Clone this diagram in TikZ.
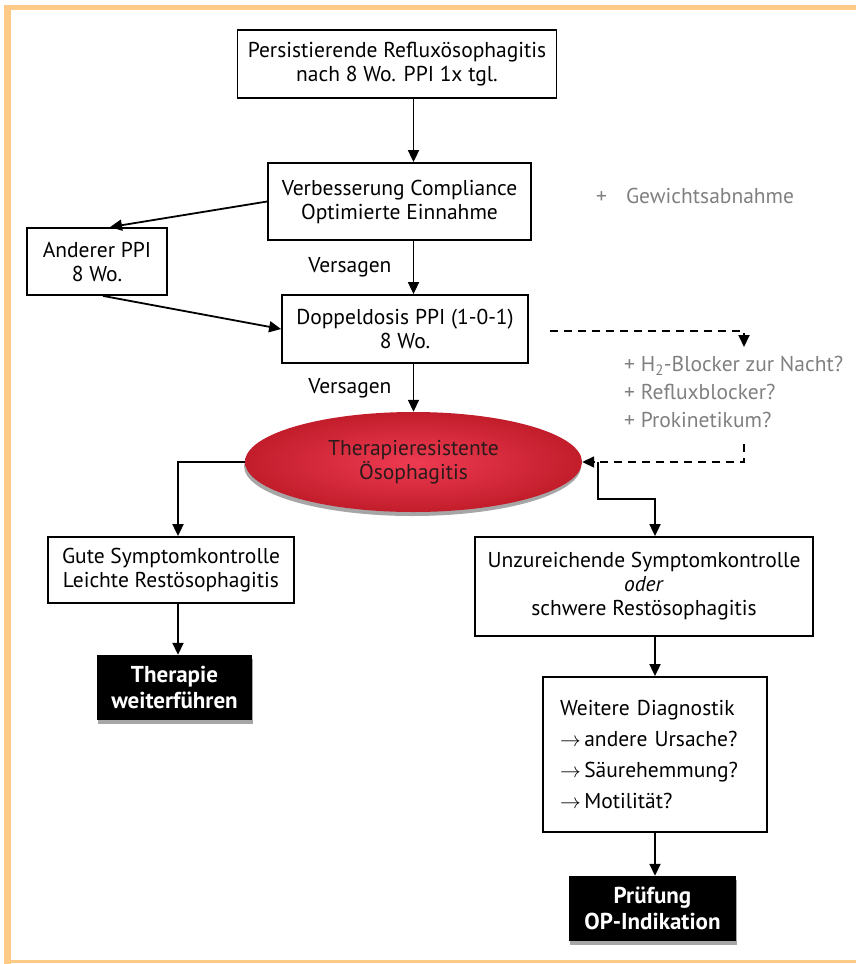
\documentclass[tikz,border=0pt]{standalone}
\usepackage{fontspec}
\setmainfont{PT Sans}
\usetikzlibrary{arrows.meta, shapes.geometric, shadows, positioning}

\definecolor{frameorange}{HTML}{FFC987}
\definecolor{hintgrey}{HTML}{808080}
\definecolor{resred}{HTML}{C21D2B}
\definecolor{reslight}{HTML}{EE3B52}
\definecolor{restext}{HTML}{2A1A1B}

\tikzset{
    txt/.style={font=\fontsize{21.5}{24}\selectfont},
    box/.style={txt, draw, line width=1.8pt, align=center, inner sep=0pt},
    endbox/.style={fill=black, text=white, align=center, inner sep=0pt,
        font=\fontsize{23}{26}\selectfont\bfseries,
        drop shadow={shadow xshift=1pt, shadow yshift=-4pt, fill=gray!70, opacity=1}},
    resist/.style={txt, ellipse, inner sep=0pt, align=center, text=restext,
        shading=radial, inner color=reslight, outer color=resred,
        drop shadow={shadow xshift=-1pt, shadow yshift=-4pt, fill=gray!70, opacity=1}},
    hint/.style={txt, text=hintgrey, align=left, inner sep=0pt},
    flow/.style={line width=1.8pt, -{Triangle[length=12pt,width=11pt]}},
    dashflow/.style={flow, dash pattern=on 8pt off 6pt}
}

\begin{document}
\begin{tikzpicture}[x=1pt, y=-1pt]
        \useasboundingbox (0,0) rectangle (856,964);
        % frame
        \fill[frameorange] (4,5) rectangle (856,10);
        \fill[frameorange] (4,5) rectangle (11,964);
        \fill[frameorange] (4,960) rectangle (856,963);

        \node[box, minimum width=319pt, minimum height=68pt] (top) at (397,64)
            {Persistierende Refluxösophagitis\\nach 8 Wo. PPI 1x tgl.};
        \node[box, minimum width=263pt, minimum height=77pt] (compl) at (399.5,201.5)
            {Verbesserung Compliance\\Optimierte Einnahme};
        \node[box, minimum width=140pt, minimum height=67pt] (other) at (97,261.5)
            {Anderer PPI\\8 Wo.};
        \node[box, minimum width=246pt, minimum height=68pt] (dose) at (405,329)
            {Doppeldosis PPI (1-0-1)\\8 Wo.};
        \node[resist, minimum width=337pt, minimum height=100pt] (res) at (413.5,462)
            {Therapieresistente\\Ösophagitis};
        \node[box, minimum width=246pt, minimum height=66pt] (good) at (171,570)
            {Gute Symptomkontrolle\\Leichte Restösophagitis};
        \node[endbox, minimum width=155pt, minimum height=65pt] (cont) at (174.5,687.5)
            {Therapie\\weiterführen};
        \node[box, minimum width=338pt, minimum height=99pt] (poor) at (644,586.5)
            {Unzureichende Symptomkontrolle\\\textit{oder}\\schwere Restösophagitis};
        \node[box, minimum width=224pt, minimum height=155pt, text width=190pt,
            align=left, font=\fontsize{21.5}{31}\selectfont] (diag) at (655,754.5)
            {Weitere Diagnostik\\$\rightarrow$\,andere Ursache?\\$\rightarrow$\,Säurehemmung?\\$\rightarrow$\,Motilität?};
        \node[endbox, minimum width=167pt, minimum height=65pt] (check) at (652.5,908.5)
            {Prüfung\\OP-Indikation};

        \node[txt, anchor=east] (fail1) at (395,267) {Versagen};
        \node[txt, anchor=east] (fail2) at (395,388) {Versagen};
        \node[hint, anchor=west] (weight) at (596,196) {+\hspace{19pt}Gewichtsabnahme};
        \node[hint, anchor=north west, font=\fontsize{21.5}{28}\selectfont] (extra) at (624,356)
            {+ H\textsubscript{2}-Blocker zur Nacht?\\+ Refluxblocker?\\+ Prokinetikum?};
        \coordinate (extrain) at (744,347);
        \coordinate (extraout) at (744,444);

        \draw[flow] (top.south -| res.north) -- (compl.north -| res.north);
        \draw[flow] (compl.west) -- ([xshift=13pt]other.north);
        \draw[flow] ([xshift=6pt]other.south) -- (dose.west);
        \draw[flow] (compl.south -| res.north) -- (dose.north -| res.north);
        \draw[flow] (dose.south -| res.north) -- (res.north);
        \draw[dashflow, shorten <=21pt] ([yshift=-2pt]dose.east) -| (extrain);
        \draw[dashflow] (extraout) |- (res.east);
        \draw[flow] (res.west) -| ([xshift=7pt]good.north);
        \draw[flow] ([xshift=7pt]good.south) -- ([xshift=3.5pt]cont.north);
        \draw[flow] ([xshift=16pt]res.east) -- ++(0,37) -| (poor.north -| diag.north);
        \draw[flow] (poor.south -| diag.north) -- (diag.north);
        \draw[flow] (diag.south) -- (diag.south |- check.north);
    \end{tikzpicture}
\end{document}
